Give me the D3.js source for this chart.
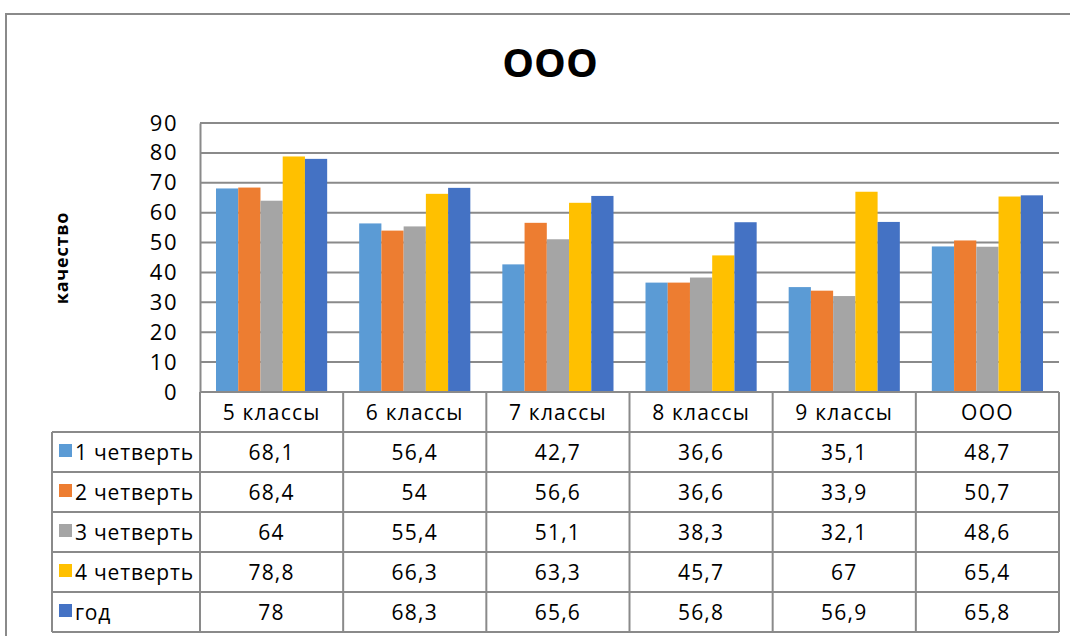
<!DOCTYPE html>
<html>
<head>
<meta charset="utf-8">
<script src="https://cdn.jsdelivr.net/npm/d3@7"></script>
<style>
  body { margin: 0; background: #fff; }
  svg { font-family: "Open Sans", sans-serif; }
</style>
</head>
<body>
<svg id="chart" width="1070" height="636"></svg>
<script>
// data
var categories = ["5 классы", "6 классы", "7 классы", "8 классы", "9 классы", "ООО"];
var seriesNames = ["1 четверть", "2 четверть", "3 четверть", "4 четверть", "год"];
var q1 = [68.1, 56.4, 42.7, 36.6, 35.1, 48.7];
var q2 = [68.4, 54, 56.6, 36.6, 33.9, 50.7];
var q3 = [64, 55.4, 51.1, 38.3, 32.1, 48.6];
var q4 = [78.8, 66.3, 63.3, 45.7, 67, 65.4];
var year = [78, 68.3, 65.6, 56.8, 56.9, 65.8];
var yTicks = [0, 10, 20, 30, 40, 50, 60, 70, 80, 90];

var seriesValues = [q1, q2, q3, q4, year];
var colors = ["#5B9BD5", "#ED7D31", "#A5A5A5", "#FFC000", "#4472C4"];
var gridColor = "#8a8a8a";

var svg = d3.select("#chart");

// outer frame
svg.append("path")
    .attr("d", "M6,636 V14 H1070")
    .attr("fill", "none")
    .attr("stroke", "#8a8a8a")
    .attr("stroke-width", 2);

var plot = { left: 200, right: 1059, top: 123, bottom: 392 };

var x0 = d3.scaleBand()
    .domain(categories)
    .range([plot.left, plot.right])
    .padding(0);

var x1 = d3.scaleBand()
    .domain(seriesNames)
    .range([16, x0.bandwidth() - 16])
    .padding(0);

var y = d3.scaleLinear()
    .domain([0, 90])
    .range([plot.bottom, plot.top]);

// title
svg.append("text")
    .attr("x", 550)
    .attr("y", 77)
    .attr("text-anchor", "middle")
    .style("font-size", "40px")
    .style("font-weight", "bold")
    .text("ООО");

// y label
svg.append("text")
    .attr("transform", "translate(68,258) rotate(-90)")
    .attr("text-anchor", "middle")
    .style("font-size", "18px")
    .style("font-weight", "bold")
    .style("letter-spacing", "0.8px")
    .text("качество");

// gridlines
svg.append("g").selectAll("line")
    .data(yTicks.filter(function (d) { return d > 0; }))
    .enter().append("line")
    .attr("x1", plot.left)
    .attr("x2", plot.right)
    .attr("y1", function (d) { return y(d); })
    .attr("y2", function (d) { return y(d); })
    .attr("stroke", gridColor)
    .attr("stroke-width", 2);

// y axis
var yAxis = svg.append("g")
    .attr("transform", "translate(" + plot.left + ",0)")
    .call(d3.axisLeft(y).tickValues(yTicks).tickSize(0).tickPadding(22));
yAxis.select(".domain").attr("stroke", gridColor).attr("stroke-width", 2);
yAxis.selectAll("text")
    .style("font-size", "22px")
    .style("letter-spacing", "1.5px")
    .style("font-family", "'Open Sans', sans-serif")
    .attr("fill", "#000");

// bars
var groups = svg.append("g").selectAll("g")
    .data(categories)
    .enter().append("g")
    .attr("transform", function (d) { return "translate(" + x0(d) + ",0)"; });

groups.selectAll("rect")
    .data(function (d, i) {
        return seriesNames.map(function (s, j) {
            return { series: s, value: seriesValues[j][i], color: colors[j] };
        });
    })
    .enter().append("rect")
    .attr("x", function (d) { return x1(d.series); })
    .attr("width", x1.bandwidth())
    .attr("y", function (d) { return y(d.value); })
    .attr("height", function (d) { return plot.bottom - y(d.value); })
    .attr("fill", function (d) { return d.color; });

// data table
var rowH = 40;
var tableTop = plot.bottom;
var legendLeft = 52;
var table = svg.append("g")
    .style("font-size", "21px")
    .style("letter-spacing", "1.2px");

var lineAttrs = function (sel) {
    sel.attr("stroke", gridColor).attr("stroke-width", 2);
};

// horizontal lines
table.append("line")
    .attr("x1", plot.left).attr("x2", plot.right)
    .attr("y1", tableTop).attr("y2", tableTop).call(lineAttrs);
for (var r = 1; r <= seriesNames.length + 1; r++) {
    table.append("line")
        .attr("x1", legendLeft).attr("x2", plot.right)
        .attr("y1", tableTop + r * rowH).attr("y2", tableTop + r * rowH)
        .call(lineAttrs);
}
// vertical lines
table.append("line")
    .attr("x1", legendLeft).attr("x2", legendLeft)
    .attr("y1", tableTop + rowH).attr("y2", tableTop + rowH * 6).call(lineAttrs);
categories.forEach(function (c) {
    table.append("line")
        .attr("x1", x0(c)).attr("x2", x0(c))
        .attr("y1", tableTop).attr("y2", tableTop + rowH * 6).call(lineAttrs);
});
table.append("line")
    .attr("x1", plot.right).attr("x2", plot.right)
    .attr("y1", tableTop).attr("y2", tableTop + rowH * 6).call(lineAttrs);

// header text
table.selectAll("text.cat")
    .data(categories)
    .enter().append("text")
    .attr("class", "cat")
    .attr("x", function (d) { return x0(d) + x0.bandwidth() / 2; })
    .attr("y", tableTop + rowH / 2 + 8)
    .attr("text-anchor", "middle")
    .text(function (d) { return d; });

// value rows
seriesNames.forEach(function (s, j) {
    var rowY = tableTop + (j + 1) * rowH;
    table.append("rect")
        .attr("x", 59).attr("y", rowY + 12)
        .attr("width", 13).attr("height", 13)
        .attr("fill", colors[j]);
    table.append("text")
        .attr("x", 75).attr("y", rowY + rowH / 2 + 8)
        .style("letter-spacing", "0.8px")
        .text(s);
    categories.forEach(function (c, i) {
        table.append("text")
            .attr("x", x0(c) + x0.bandwidth() / 2)
            .attr("y", rowY + rowH / 2 + 8)
            .attr("text-anchor", "middle")
            .text(String(seriesValues[j][i]).replace(".", ","));
    });
});
</script>
</body>
</html>
